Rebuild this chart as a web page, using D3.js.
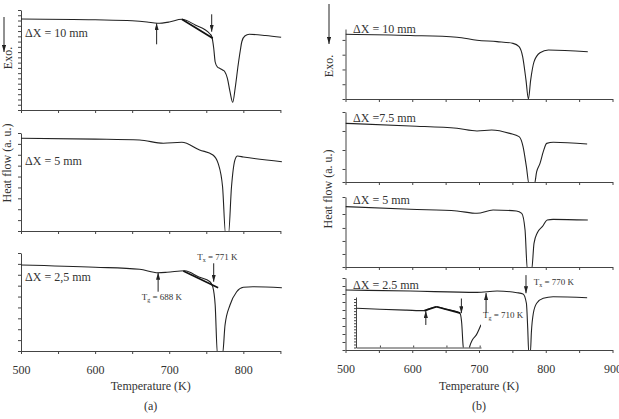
<!DOCTYPE html>
<html>
<head>
<meta charset="UTF-8">
<title>DSC traces</title>
<script src="https://d3js.org/d3.v7.min.js"></script>
<style>
  body { margin: 0; background: #fff; }
  svg text { font-family: "Liberation Serif", "Times New Roman", serif; fill: #333; }
  .trace { fill: none; stroke: #222; stroke-width: 1.1; }
  .tangent { stroke: #111; stroke-width: 1.7; }
  .arrow { stroke: #222; stroke-width: 1; }
  .axis path, .axis line { stroke: #444; }
</style>
</head>
<body>
<div id="chart"></div>
<script>
// temperature (K) / heat flow (a. u., 0-100 inside each trace window)
const rangeA = [500, 850];
const rangeB = [500, 900];
const ticksA = [500, 550, 600, 650, 700, 750, 800, 850];
const ticksB = [500, 550, 600, 650, 700, 750, 800, 850, 900];

const tempA10 = [500, 600, 650, 670, 684, 700, 717, 735, 755, 757.5, 760, 762, 765, 768.5, 772, 775, 778.5, 782, 785.7, 789, 793, 796, 798, 802, 808, 830, 851];
const flowA10 = [91, 90.2, 89.2, 88, 86.7, 88, 90.7, 85, 76, 73.3, 62, 48, 43, 41.5, 40, 38.3, 31.7, 18.3, 7.7, 22, 45, 60, 68.5, 74, 75.7, 74.5, 72.7];

const tempA5 = [500, 600, 660, 692, 717, 741, 759, 766, 772, 776, 780, 784, 788.6, 792, 800, 852];
const flowA5 = [94.6, 93.8, 92.9, 89.5, 90.5, 82.7, 77.6, 69, 44.9, -3, -3, 44.9, 72.4, 76.5, 75.5, 70.7];

const tempA25 = [500, 600, 660, 685, 697, 721, 740, 755, 758.7, 762, 765, 772, 775.3, 782, 791, 800, 813, 852];
const flowA25 = [87.8, 85.5, 83.4, 79.9, 80.3, 81.9, 75.5, 70.7, 65.6, 46.9, -3, -3, 26.5, 46.9, 60.5, 65, 65.6, 64.6];

const tempB10 = [500, 597, 667, 697, 727, 751, 760, 765.4, 770.4, 774, 777.4, 782.4, 791.4, 804, 863];
const flowB10 = [92.4, 90.7, 88.3, 83.9, 82, 79.5, 74.8, 60.5, 27, 0, 27, 53, 66, 70, 67.6];

const tempB75 = [500, 597, 667, 697, 719, 746, 760, 766, 771, 775, 783, 786.4, 791.4, 796.3, 801.4, 811.3, 862];
const flowB75 = [83.8, 80, 76.7, 72.9, 74.3, 69.5, 64.8, 50.5, 21.9, -3, -3, 14.8, 26.7, 43.3, 55.2, 56.7, 54.3];

const tempB5 = [500, 597, 667, 697, 721, 756, 764, 769, 772.4, 779, 782.4, 787.4, 794.8, 802.3, 811, 863];
const flowB5 = [86.2, 82.4, 80, 76.7, 81.4, 80, 76.7, 52.9, -3, -3, 33.8, 49, 57.6, 67.1, 68.1, 67.1];

const tempB25 = [500, 597, 697, 727, 757, 766, 771, 773, 774.5, 777, 778.5, 781.4, 786.4, 796.3, 811, 862];
const flowB25 = [83.3, 81.9, 80.1, 81.9, 79.6, 77.8, 64.9, 30, -3, -3, 25, 51, 64.9, 71.8, 74, 72.6];

// inset of the 2.5 mm trace
const rangeInset = [614, 802];
const ticksInset = [650, 700, 750, 800];
const tempInset = [615, 650, 690, 717, 722, 735, 750, 765, 769, 771, 773, 775, 777, 783, 785, 789, 795, 802];
const flowInset = [77.6, 75.6, 74, 73, 75.5, 80.8, 75.6, 71.5, 69, 66, 48, 5, -10, -10, 2, 15, 25, 45];

// onset constructions: tangent segments [t1, q1, t2, q2]
const tangentA10 = [[717, 90.7, 758.7, 71.7]];
const tangentA25 = [[719, 81.6, 766, 64.6]];
const tangentInset = [[717, 73, 735, 80.8], [735, 80.8, 771, 68]];
// arrows [t, from, to]
const arrowsA10 = [[683, 65.7, 86.7], [757.3, 95.7, 78.3]];
const arrowsA25 = [[685, 60.5, 79.9], [760, 89.5, 70.7]];
const arrowsB25 = [[710.6, 51.4, 79.2], [770.4, 104, 78.8]];
const arrowsInset = [[719, 44.6, 72.3], [772.5, 97, 68]];

const W = 619, H = 419;
const svg = d3.select("#chart").append("svg")
  .attr("width", W).attr("height", H);

const defs = svg.append("defs");
defs.append("marker")
  .attr("id", "head")
  .attr("viewBox", "0 0 10 6")
  .attr("refX", 10).attr("refY", 3)
  .attr("markerUnits", "userSpaceOnUse")
  .attr("markerWidth", 7).attr("markerHeight", 4.2)
  .attr("orient", "auto")
  .append("path").attr("d", "M0,0 L10,3 L0,6 z").attr("fill", "#222");

const xA = d3.scaleLinear().domain(rangeA).range([21, 280.4]);
const xB = d3.scaleLinear().domain(rangeB).range([345.5, 612.5]);

const panels = [
  { id: "a10", x: xA, xt: ticksA, top: 10, bottom: 110, t: tempA10, q: flowA10, label: "ΔX = 10 mm", lx: 25, ly: 37,
    yt: d3.range(0, 100.1, 100 / 19), tan: tangentA10, arr: arrowsA10 },
  { id: "a5", x: xA, xt: ticksA, top: 133, bottom: 231, t: tempA5, q: flowA5, label: "ΔX = 5 mm", lx: 25, ly: 165,
    yt: d3.range(0, 100.1, 100 / 9) },
  { id: "a25", x: xA, xt: ticksA, top: 253, bottom: 351, t: tempA25, q: flowA25, label: "ΔX = 2,5 mm", lx: 25, ly: 281,
    yt: d3.range(0, 100.1, 100 / 9), tan: tangentA25, arr: arrowsA25, labels: true },
  { id: "b10", x: xB, xt: ticksB, top: 29, bottom: 99, t: tempB10, q: flowB10, label: "ΔX = 10 mm", lx: 353, ly: 33,
    yt: d3.range(0, 100.1, 21.1) },
  { id: "b75", x: xB, xt: ticksB, top: 112, bottom: 182, t: tempB75, q: flowB75, label: "ΔX =7.5 mm", lx: 353, ly: 122,
    yt: [0, 18.6, 45.7, 72.9, 100] },
  { id: "b5", x: xB, xt: ticksB, top: 197, bottom: 267, t: tempB5, q: flowB5, label: "ΔX = 5 mm", lx: 353, ly: 204,
    yt: [0, 18.6, 37.2, 55.8, 75.7, 100] },
  { id: "b25", x: xB, xt: ticksB, top: 278, bottom: 350, t: tempB25, q: flowB25, label: "ΔX = 2.5 mm", lx: 353, ly: 289,
    yt: d3.range(0, 100.1, 100 / 9), arr: arrowsB25, labels: true }
];

function drawTrace(g, x, y, t, q, clipId) {
  const pts = t.map((d, i) => [d, q[i]]);
  g.append("path")
    .datum(pts)
    .attr("class", "trace")
    .attr("clip-path", "url(#" + clipId + ")")
    .attr("d", d3.line().curve(d3.curveMonotoneX).x(d => x(d[0])).y(d => y(d[1])));
}

function drawExtras(g, x, y, tan, arr) {
  (tan || []).forEach(s => {
    g.append("line").attr("class", "tangent")
      .attr("x1", x(s[0])).attr("y1", y(s[1]))
      .attr("x2", x(s[2])).attr("y2", y(s[3]));
  });
  (arr || []).forEach(a => {
    g.append("line").attr("class", "arrow")
      .attr("x1", x(a[0])).attr("y1", y(a[1]))
      .attr("x2", x(a[0])).attr("y2", y(a[2]))
      .attr("marker-end", "url(#head)");
  });
}

function subLabel(g, px, py, sub, rest, anchor) {
  const t = g.append("text").attr("x", px).attr("y", py)
    .attr("font-size", 9).attr("text-anchor", anchor || "start");
  t.append("tspan").text("T");
  t.append("tspan").attr("font-size", 6).attr("dy", 2).text(sub);
  t.append("tspan").attr("dy", -2).text(rest);
}

panels.forEach(p => {
  const y = d3.scaleLinear().domain([0, 100]).range([p.bottom, p.top]);
  const g = svg.append("g");
  const r = p.x.range();

  defs.append("clipPath").attr("id", "clip-" + p.id)
    .append("rect").attr("x", r[0]).attr("y", p.top - 30)
    .attr("width", r[1] - r[0] + 3).attr("height", p.bottom - p.top + 30);

  g.append("g").attr("class", "axis")
    .attr("transform", "translate(0," + p.bottom + ")")
    .call(d3.axisBottom(p.x).tickValues(p.xt).tickSize(3).tickSizeOuter(0).tickPadding(11)
      .tickFormat(d => (p.labels && d % 100 === 0) ? d : ""))
    .call(a => a.selectAll("text").attr("font-size", 12)
      .style("font-family", "'Liberation Serif', 'Times New Roman', serif").attr("fill", "#333"));

  g.append("g").attr("class", "axis")
    .attr("transform", "translate(" + r[0] + ",0)")
    .call(d3.axisLeft(y).tickValues(p.yt).tickSize(3).tickSizeOuter(0).tickFormat(""));

  drawTrace(g, p.x, y, p.t, p.q, "clip-" + p.id);
  drawExtras(g, p.x, y, p.tan, p.arr);

  g.append("text").attr("x", p.lx).attr("y", p.ly).attr("font-size", 12).text(p.label);

  if (p.id === "a25") {
    subLabel(g, p.x(663), y(52), "g", " = 688 K");
    subLabel(g, p.x(765), y(93), "x", " = 771 K", "middle");
  }
  if (p.id === "b25") {
    subLabel(g, p.x(706), y(44), "g", " = 710 K");
    subLabel(g, p.x(782), y(90), "x", " = 770 K");

    // inset
    const xi = d3.scaleLinear().domain(rangeInset).range([356, 481]);
    const yi = d3.scaleLinear().domain([0, 100]).range([347.5, 297]);
    defs.append("clipPath").attr("id", "clip-inset")
      .append("rect").attr("x", 356).attr("y", 290).attr("width", 125).attr("height", 57.5);
    g.append("g").attr("class", "axis")
      .attr("transform", "translate(0,347.5)")
      .call(d3.axisBottom(xi).tickValues(ticksInset).tickSize(-2).tickSizeOuter(0).tickFormat(""));
    g.append("g").attr("class", "axis")
      .attr("transform", "translate(356,0)")
      .call(d3.axisLeft(yi).tickValues(d3.range(0, 100.1, 6)).tickSize(2).tickSizeOuter(0).tickFormat(""));
    drawTrace(g, xi, yi, tempInset, flowInset, "clip-inset");
    drawExtras(g, xi, yi, tangentInset, arrowsInset);
  }
});

// axis titles
function axisTitles(cx, exoX, exoY, hfX, hfY, name) {
  svg.append("text").attr("x", cx).attr("y", 390).attr("text-anchor", "middle")
    .attr("font-size", 12).text("Temperature (K)");
  svg.append("text").attr("x", cx).attr("y", 410).attr("text-anchor", "middle")
    .attr("font-size", 12).text(name);
  svg.append("text").attr("transform", "translate(" + exoX + "," + exoY + ") rotate(-90)")
    .attr("text-anchor", "middle").attr("font-size", 12).text("Exo.");
  svg.append("text").attr("transform", "translate(" + hfX + "," + hfY + ") rotate(-90)")
    .attr("text-anchor", "middle").attr("font-size", 12).text("Heat flow (a. u.)");
}
axisTitles(150.7, 12, 58, 11, 163, "(a)");
axisTitles(479, 333, 66, 332, 189, "(b)");

// "Exo." direction arrows
[[4, 17, 52], [329, 4, 44]].forEach(a => {
  svg.append("line").attr("class", "arrow")
    .attr("x1", a[0]).attr("y1", a[1]).attr("x2", a[0]).attr("y2", a[2])
    .attr("marker-end", "url(#head)");
});
</script>
</body>
</html>
